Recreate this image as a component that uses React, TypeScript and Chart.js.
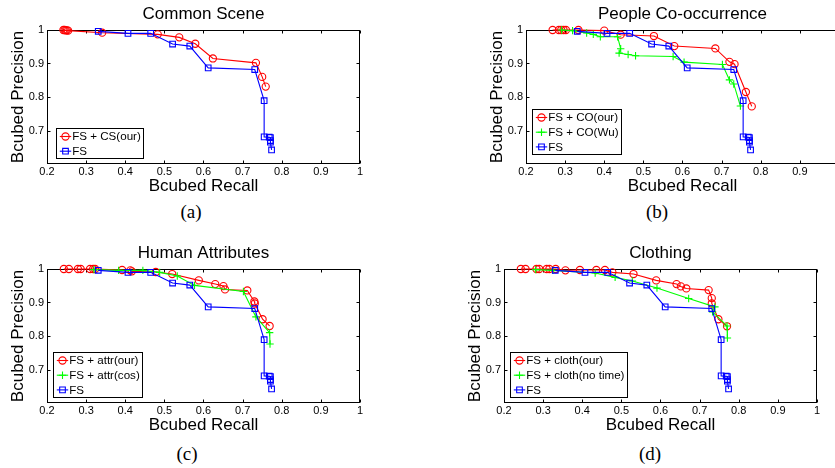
import React, { useEffect, useRef } from 'react';
import { Chart, registerables } from 'chart.js';

Chart.register(...registerables);

// ---------- data ----------
const xTickValues = [0.2, 0.3, 0.4, 0.5, 0.6, 0.7, 0.8, 0.9, 1];
const yTickValues = [0.7, 0.8, 0.9, 1];
const xMin = 0.2;
const xMax = 1;
const yMin = 0.6;
const yMax = 1;

const panelTitles = ['Common Scene', 'People Co-occurrence', 'Human Attributes', 'Clothing'];
const panelCaptions = ['(a)', '(b)', '(c)', '(d)'];
const xAxisTitle = 'Bcubed Recall';
const yAxisTitle = 'Bcubed Precision';

// baseline FS (same in all panels)
const fsRecall = [0.331, 0.407, 0.465, 0.521, 0.565, 0.612, 0.731, 0.755, 0.755, 0.768, 0.771, 0.771, 0.771, 0.774];
const fsPrecision = [0.996, 0.990, 0.990, 0.958, 0.952, 0.887, 0.882, 0.789, 0.681, 0.680, 0.679, 0.670, 0.665, 0.642];

// (a) Common Scene
const csOurRecall = [0.242, 0.245, 0.248, 0.251, 0.254, 0.341, 0.483, 0.538, 0.579, 0.624, 0.734, 0.750, 0.759];
const csOurPrecision = [1.0, 1.0, 0.999, 0.999, 0.998, 0.992, 0.987, 0.978, 0.959, 0.915, 0.902, 0.860, 0.831];

// (b) People Co-occurrence
const coOurRecall = [0.268, 0.284, 0.290, 0.296, 0.302, 0.334, 0.400, 0.442, 0.527, 0.579, 0.684, 0.720, 0.733, 0.762, 0.777];
const coOurPrecision = [1.0, 1.0, 1.0, 1.0, 1.0, 1.0, 0.998, 0.986, 0.982, 0.952, 0.945, 0.905, 0.898, 0.815, 0.772];
const coWuRecall = [0.291, 0.319, 0.355, 0.372, 0.390, 0.434, 0.442, 0.438, 0.461, 0.480, 0.576, 0.604, 0.702, 0.720, 0.731, 0.748];
const coWuPrecision = [1.0, 0.998, 0.991, 0.987, 0.980, 0.980, 0.944, 0.931, 0.927, 0.923, 0.921, 0.904, 0.897, 0.851, 0.839, 0.773];

// (c) Human Attributes
const attrOurRecall = [0.243, 0.256, 0.279, 0.286, 0.310, 0.318, 0.323, 0.392, 0.413, 0.417, 0.478, 0.520, 0.588, 0.630, 0.651, 0.655, 0.712, 0.730, 0.731, 0.751, 0.769];
const attrOurPrecision = [1.0, 1.0, 1.0, 1.0, 1.0, 1.0, 1.0, 0.997, 0.996, 0.993, 0.991, 0.985, 0.966, 0.955, 0.949, 0.939, 0.936, 0.903, 0.897, 0.850, 0.830];
const attrCosRecall = [0.320, 0.383, 0.445, 0.488, 0.533, 0.577, 0.702, 0.734, 0.769, 0.770];
const attrCosPrecision = [0.998, 0.996, 0.996, 0.990, 0.979, 0.951, 0.933, 0.857, 0.810, 0.776];

// (d) Clothing
const clothOurRecall = [0.243, 0.255, 0.283, 0.290, 0.309, 0.316, 0.332, 0.357, 0.394, 0.436, 0.458, 0.477, 0.531, 0.589, 0.641, 0.652, 0.666, 0.723, 0.731, 0.731, 0.748, 0.770];
const clothOurPrecision = [1.0, 1.0, 1.0, 1.0, 1.0, 1.0, 1.0, 0.996, 0.997, 0.997, 0.997, 0.990, 0.985, 0.966, 0.955, 0.948, 0.942, 0.937, 0.913, 0.897, 0.850, 0.829];
const clothNoTimeRecall = [0.281, 0.325, 0.433, 0.484, 0.528, 0.591, 0.672, 0.739, 0.733, 0.770, 0.771];
const clothNoTimePrecision = [0.998, 0.996, 0.988, 0.975, 0.964, 0.943, 0.912, 0.887, 0.872, 0.830, 0.794];

// ---------- style ----------
const FONT = '"Liberation Sans", Arial, Helvetica, sans-serif';
const RED = '#ff0000';
const GREEN = '#00ff00';
const BLUE = '#0000ff';
const PLOT_W = 313;
const PLOT_H = 134;
const Y_AXIS_W = 45;
const TITLE_H = 30;
const X_AXIS_H = 33;
const LEGEND_FONT = 11.6;

type Style = 'circle' | 'cross' | 'rect';

function series(label: string, xs: number[], ys: number[], color: string, style: Style, order: number) {
  const radius = style === 'circle' ? 3.6 : style === 'rect' ? 4 : 3.7;
  return {
    label,
    data: xs.map((x, i) => ({ x, y: ys[i] })),
    borderColor: color,
    backgroundColor: color,
    pointBorderColor: color,
    pointBackgroundColor: 'rgba(0,0,0,0)',
    pointStyle: style,
    pointRadius: radius,
    pointHoverRadius: radius,
    pointBorderWidth: 1.1,
    borderWidth: 1.1,
    showLine: true,
    fill: false,
    tension: 0,
    clip: false,
    order,
    yAxisID: 'y',
    xAxisID: 'x',
  };
}

function drawMarker(ctx: CanvasRenderingContext2D, style: Style, x: number, y: number, r: number) {
  ctx.beginPath();
  if (style === 'circle') {
    ctx.arc(x, y, r, 0, Math.PI * 2);
  } else if (style === 'rect') {
    const s = r * Math.SQRT1_2;
    ctx.rect(x - s, y - s, 2 * s, 2 * s);
  } else {
    ctx.moveTo(x - r, y);
    ctx.lineTo(x + r, y);
    ctx.moveTo(x, y - r);
    ctx.lineTo(x, y + r);
  }
  ctx.stroke();
}

const framePlugin = {
  id: 'matlabFrame',
  beforeDatasetsDraw(chart: any) {
    const { ctx, chartArea, scales } = chart;
    const L = Math.round(chartArea.left) + 0.5;
    const R = Math.round(chartArea.right) - 0.5;
    const T = Math.round(chartArea.top) + 0.5;
    const B = Math.round(chartArea.bottom) - 0.5;
    const tl = 3;
    ctx.save();
    ctx.strokeStyle = '#000';
    ctx.lineWidth = 1;
    ctx.strokeRect(L, T, R - L, B - T);
    ctx.beginPath();
    scales.x.ticks.forEach((t: any) => {
      const px = Math.round(scales.x.getPixelForValue(t.value)) + 0.5;
      ctx.moveTo(px, B);
      ctx.lineTo(px, B - tl);
      ctx.moveTo(px, T);
      ctx.lineTo(px, T + tl);
    });
    scales.y.ticks.forEach((t: any) => {
      const py = Math.round(scales.y.getPixelForValue(t.value)) + 0.5;
      ctx.moveTo(L, py);
      ctx.lineTo(L + tl, py);
      ctx.moveTo(R, py);
      ctx.lineTo(R - tl, py);
    });
    ctx.stroke();
    ctx.restore();
  },
};

const legendPlugin = {
  id: 'boxLegend',
  afterDatasetsDraw(chart: any, _args: any, opts: any) {
    const { ctx, chartArea } = chart;
    const dsets = chart.data.datasets;
    ctx.save();
    ctx.font = `${LEGEND_FONT}px ${FONT}`;
    const textW = Math.max(...dsets.map((d: any) => ctx.measureText(d.label).width));
    const n = dsets.length;
    const rowH = 14.7;
    const w = Math.round(15.7 + textW + 3);
    const h = Math.round(8 + (n - 1) * rowH + 7.5);
    const x = Math.round(chartArea.left + opts.dx) + 0.5;
    const y = Math.round(chartArea.bottom - opts.dy - h) + 0.5;
    ctx.fillStyle = '#fff';
    ctx.fillRect(x, y, w, h);
    ctx.strokeStyle = '#000';
    ctx.lineWidth = 1;
    ctx.strokeRect(x, y, w, h);
    dsets.forEach((d: any, i: number) => {
      const cy = y + 8 + i * rowH;
      ctx.strokeStyle = d.borderColor;
      ctx.lineWidth = 1.1;
      ctx.beginPath();
      ctx.moveTo(x + 3.3, cy);
      ctx.lineTo(x + 14.7, cy);
      ctx.stroke();
      drawMarker(ctx, d.pointStyle, x + 9, cy, d.pointRadius);
      ctx.fillStyle = '#000';
      ctx.textBaseline = 'middle';
      ctx.textAlign = 'left';
      ctx.fillText(d.label, x + 15.7, cy + 0.5);
    });
    ctx.restore();
  },
};

type PanelDef = {
  title: string;
  caption: string;
  left: number;
  top: number;
  capX: number;
  capY: number;
  legendDx: number;
  legendDy: number;
  datasets: any[];
};

const panels: PanelDef[] = [
  {
    title: panelTitles[0], caption: panelCaptions[0], left: 47, top: 30, capX: 191, capY: 212, legendDx: 9, legendDy: 6,
    datasets: [
      series('FS + CS(our)', csOurRecall, csOurPrecision, RED, 'circle', 2),
      series('FS', fsRecall, fsPrecision, BLUE, 'rect', 0),
    ],
  },
  {
    title: panelTitles[1], caption: panelCaptions[1], left: 526, top: 30, capX: 657, capY: 212, legendDx: 6, legendDy: 10,
    datasets: [
      series('FS + CO(our)', coOurRecall, coOurPrecision, RED, 'circle', 2),
      series('FS + CO(Wu)', coWuRecall, coWuPrecision, GREEN, 'cross', 1),
      series('FS', fsRecall, fsPrecision, BLUE, 'rect', 0),
    ],
  },
  {
    title: panelTitles[2], caption: panelCaptions[2], left: 47, top: 269, capX: 187, capY: 454, legendDx: 6, legendDy: 6,
    datasets: [
      series('FS + attr(our)', attrOurRecall, attrOurPrecision, RED, 'circle', 2),
      series('FS + attr(cos)', attrCosRecall, attrCosPrecision, GREEN, 'cross', 1),
      series('FS', fsRecall, fsPrecision, BLUE, 'rect', 0),
    ],
  },
  {
    title: panelTitles[3], caption: panelCaptions[3], left: 504, top: 269, capX: 650, capY: 454, legendDx: 6, legendDy: 6,
    datasets: [
      series('FS + cloth(our)', clothOurRecall, clothOurPrecision, RED, 'circle', 2),
      series('FS + cloth(no time)', clothNoTimeRecall, clothNoTimePrecision, GREEN, 'cross', 1),
      series('FS', fsRecall, fsPrecision, BLUE, 'rect', 0),
    ],
  },
];

function Panel({ def }: { def: PanelDef }) {
  const ref = useRef<HTMLCanvasElement | null>(null);
  const cw = PLOT_W + 2 * Y_AXIS_W;
  const ch = TITLE_H + PLOT_H + X_AXIS_H;
  const cl = def.left - Y_AXIS_W;
  const ct = def.top - TITLE_H;

  useEffect(() => {
    if (!ref.current) return;
    const chart = new Chart(ref.current, {
      type: 'scatter',
      data: { datasets: def.datasets },
      plugins: [framePlugin, legendPlugin],
      options: {
        responsive: false,
        animation: false,
        events: [],
        layout: { padding: 0, autoPadding: false },
        scales: {
          x: {
            type: 'linear',
            position: 'bottom',
            min: xMin,
            max: xMax,
            afterBuildTicks: (s: any) => {
              s.ticks = xTickValues.map((v) => ({ value: v }));
            },
            afterFit: (s: any) => {
              s.height = X_AXIS_H;
            },
            grid: { display: false, drawTicks: false },
            border: { display: false },
            ticks: {
              color: '#000',
              font: { family: FONT, size: 11 },
              padding: 1.6,
              maxRotation: 0,
              autoSkip: false,
              callback: (v: any) => String(v),
            },
            title: {
              display: true,
              text: xAxisTitle,
              color: '#000',
              font: { family: FONT, size: 17 },
              padding: { top: 0, bottom: 0.8 },
            },
          },
          y: {
            type: 'linear',
            position: 'left',
            min: yMin,
            max: yMax,
            afterBuildTicks: (s: any) => {
              s.ticks = yTickValues.map((v) => ({ value: v }));
            },
            afterFit: (s: any) => {
              s.width = Y_AXIS_W;
            },
            grid: { display: false, drawTicks: false },
            border: { display: false },
            ticks: {
              color: '#000',
              font: { family: FONT, size: 11 },
              padding: 3,
              autoSkip: false,
              callback: (v: any) => String(v),
            },
            title: {
              display: true,
              text: yAxisTitle,
              color: '#000',
              font: { family: FONT, size: 17 },
              padding: { top: 5.8, bottom: 0 },
            },
          },
          yR: {
            type: 'linear',
            position: 'right',
            display: true,
            min: 0,
            max: 1,
            afterFit: (s: any) => {
              s.width = Y_AXIS_W;
            },
            grid: { display: false, drawTicks: false },
            border: { display: false },
            ticks: { display: false },
          },
        },
        plugins: {
          legend: { display: false },
          tooltip: { enabled: false },
          title: {
            display: true,
            text: def.title,
            color: '#000',
            font: { family: FONT, size: 17, weight: 'normal' },
            padding: { top: 3.8, bottom: 5.8 },
          },
          boxLegend: { dx: def.legendDx, dy: def.legendDy },
        } as any,
      },
    } as any);
    return () => chart.destroy();
  }, [def]);

  return (
    <>
      <canvas
        ref={ref}
        width={cw}
        height={ch}
        style={{ position: 'absolute', left: cl, top: ct, width: cw, height: ch }}
      />
      <div
        style={{
          position: 'absolute',
          left: def.capX - 30,
          top: def.capY - 11,
          width: 60,
          height: 22,
          lineHeight: '22px',
          textAlign: 'center',
          fontFamily: '"Liberation Serif", "DejaVu Serif", serif',
          fontSize: 19,
          color: '#000',
        }}
      >
        {def.caption}
      </div>
    </>
  );
}

export default function App() {
  return (
    <div
      style={{
        position: 'fixed',
        left: 0,
        top: 0,
        width: 835,
        height: 468,
        overflow: 'hidden',
        background: '#fff',
      }}
    >
      {panels.map((p) => (
        <Panel key={p.caption} def={p} />
      ))}
    </div>
  );
}
